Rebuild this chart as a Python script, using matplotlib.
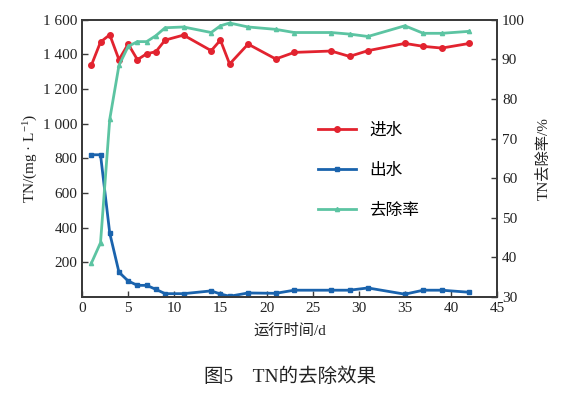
import matplotlib
matplotlib.use('Agg')
import matplotlib.pyplot as plt
from matplotlib.ticker import FuncFormatter

# Fonts: serif for latin text, CJK fallback for Chinese
plt.rcParams['font.family'] = ['Liberation Serif', 'Noto Sans CJK SC']
plt.rcParams['axes.unicode_minus'] = False
plt.rcParams['mathtext.fontset'] = 'custom'
plt.rcParams['mathtext.rm'] = 'Liberation Serif'
plt.rcParams['mathtext.it'] = 'Liberation Serif:italic'

# Run time (d)
days = [1, 2, 3, 4, 5, 6, 7, 8, 9, 11, 14, 15, 16, 18, 21, 23, 27, 29, 31, 35, 37, 39, 42]
# Influent TN (mg/L)
tn_in = [1337, 1472, 1514, 1370, 1460, 1370, 1404, 1416, 1483, 1512, 1422, 1483, 1345,
         1460, 1374, 1412, 1420, 1389, 1422, 1464, 1447, 1437, 1464]
# Effluent TN (mg/L)
tn_out = [821, 821, 368, 143, 92, 67, 67, 44, 19, 19, 35, 17, 4,
          23, 21, 39, 39, 39, 52, 16, 39, 39, 27]
# Removal rate (%)
removal = [38.5, 43.7, 74.9, 88.5, 93.3, 94.5, 94.5, 96.0, 98.0, 98.2, 96.8, 98.5, 99.2,
           98.2, 97.6, 96.8, 96.8, 96.4, 95.8, 98.5, 96.6, 96.6, 97.1]

c_red = '#e2232f'
c_blue = '#1a63ad'
c_green = '#5cc4a2'
c_axis = '#3a3a3a'

fig = plt.figure(figsize=(5.74, 3.97), dpi=100)
ax = fig.add_axes([0.143, 0.252, 0.723, 0.698])
ax2 = ax.twinx()

l1, = ax.plot(days, tn_in, color=c_red, lw=2, marker='o', ms=4, label='进水')
l2, = ax.plot(days, tn_out, color=c_blue, lw=2, marker='s', ms=3.5, label='出水')
l3, = ax2.plot(days, removal, color=c_green, lw=2, marker='^', ms=3, label='去除率')

ax.set_xlim(0, 45)
ax.set_ylim(0, 1600)
ax2.set_ylim(30, 100)
ax.set_xticks(range(0, 46, 5))
ax.set_yticks(range(200, 1601, 200))
ax2.set_yticks(range(30, 101, 10))
ax.yaxis.set_major_formatter(FuncFormatter(lambda v, p: f'{int(v):,}'.replace(',', ' ')))

for a in (ax, ax2):
    for s in a.spines.values():
        s.set_color(c_axis)
        s.set_linewidth(1.3)
    a.tick_params(direction='in', length=4, width=1, colors=c_axis, labelsize=11,
                  labelcolor='#222222')

ax.set_xlabel('运行时间/d', fontsize=11, color='#222222', labelpad=6)
ax.set_ylabel('TN/(mg · L$^{-1}$)', fontsize=11, color='#222222', labelpad=2)
ax2.set_ylabel('TN去除率/%', fontsize=11, color='#222222', labelpad=8)

ax.legend(handles=[l1, l2, l3], loc='center left', bbox_to_anchor=(0.532, 0.455),
          frameon=False, fontsize=12, handlelength=2.3, labelspacing=1.45)

fig.text(0.505, 0.052, '图5　TN的去除效果', ha='center', va='center', fontsize=14,
         color='#222222')

fig.savefig('out.png', dpi=100)
